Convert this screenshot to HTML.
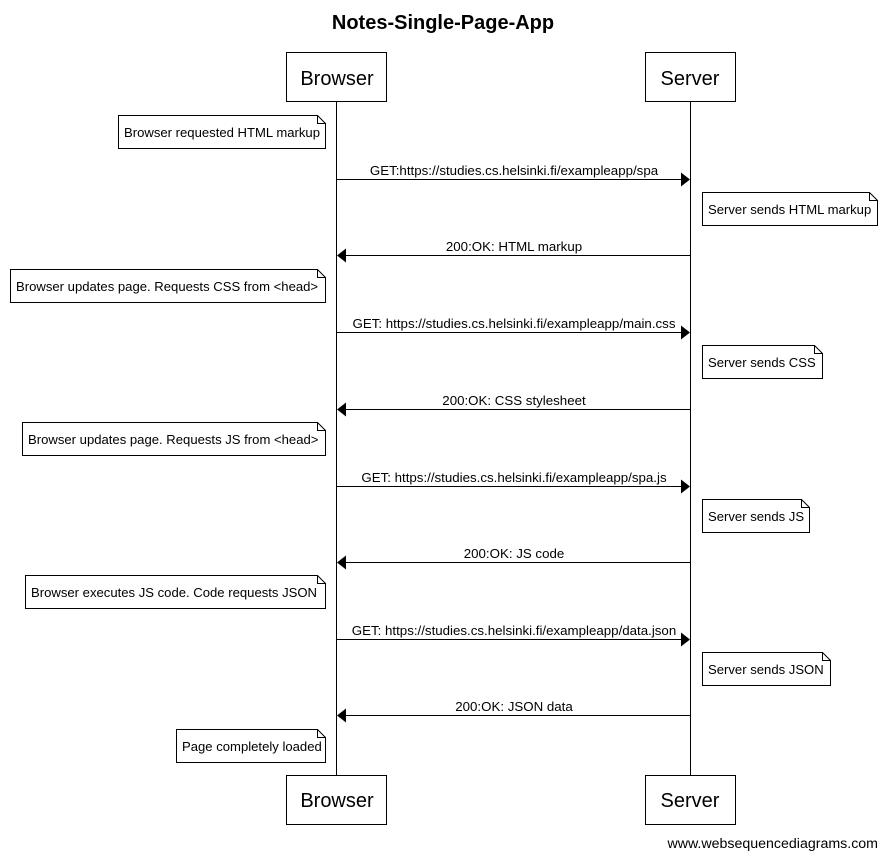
<!DOCTYPE html>
<html><head><meta charset="utf-8"><style>html,body{margin:0;padding:0;background:#fff}</style></head>
<body>
<svg width="887" height="859" xmlns="http://www.w3.org/2000/svg" font-family="Liberation Sans, Arial, sans-serif">
<rect width="887" height="859" fill="#fff"/>
<text x="443" y="29" font-size="20" font-weight="bold" text-anchor="middle">Notes-Single-Page-App</text>
<g stroke="#000" stroke-width="1" fill="#fff">
<line x1="336.5" y1="102" x2="336.5" y2="775"/>
<line x1="690.5" y1="102" x2="690.5" y2="775"/>
<rect x="286.5" y="52.5" width="100" height="49"/>
<rect x="645.5" y="52.5" width="90" height="49"/>
<rect x="286.5" y="775.5" width="100" height="49"/>
<rect x="645.5" y="775.5" width="90" height="49"/>
</g>
<g font-size="20" text-anchor="middle">
<text x="337" y="85">Browser</text><text x="690" y="85">Server</text>
<text x="337" y="807">Browser</text><text x="690" y="807">Server</text>
</g>
<g stroke="#000" fill="#fff">
<path d="M118.5 115.5H317.5L325.5 123.5V148.5H118.5Z"/><path d="M317.5 115.5V123.5H325.5" fill="none"/>
<path d="M702.5 192.5H869.5L877.5 200.5V225.5H702.5Z"/><path d="M869.5 192.5V200.5H877.5" fill="none"/>
<path d="M10.5 269.5H317.5L325.5 277.5V302.5H10.5Z"/><path d="M317.5 269.5V277.5H325.5" fill="none"/>
<path d="M702.5 345.5H814.5L822.5 353.5V378.5H702.5Z"/><path d="M814.5 345.5V353.5H822.5" fill="none"/>
<path d="M22.5 422.5H317.5L325.5 430.5V455.5H22.5Z"/><path d="M317.5 422.5V430.5H325.5" fill="none"/>
<path d="M702.5 499.5H801.5L809.5 507.5V532.5H702.5Z"/><path d="M801.5 499.5V507.5H809.5" fill="none"/>
<path d="M25.5 575.5H317.5L325.5 583.5V608.5H25.5Z"/><path d="M317.5 575.5V583.5H325.5" fill="none"/>
<path d="M702.5 652.5H822.5L830.5 660.5V685.5H702.5Z"/><path d="M822.5 652.5V660.5H830.5" fill="none"/>
<path d="M176.5 729.5H317.5L325.5 737.5V762.5H176.5Z"/><path d="M317.5 729.5V737.5H325.5" fill="none"/>
</g>
<g font-size="13.1">
<text x="124" y="137">Browser requested HTML markup</text>
<text x="708" y="214">Server sends HTML markup</text>
<text x="16" y="291">Browser updates page. Requests CSS from &lt;head&gt;</text>
<text x="708" y="367">Server sends CSS</text>
<text x="28" y="444">Browser updates page. Requests JS from &lt;head&gt;</text>
<text x="708" y="521">Server sends JS</text>
<text x="31" y="597">Browser executes JS code. Code requests JSON</text>
<text x="708" y="674">Server sends JSON</text>
<text x="182" y="751">Page completely loaded</text>
</g>
<g stroke="#000">
<line x1="337" y1="179.5" x2="682" y2="179.5"/>
<line x1="345" y1="255.5" x2="690" y2="255.5"/>
<line x1="337" y1="332.5" x2="682" y2="332.5"/>
<line x1="345" y1="409.5" x2="690" y2="409.5"/>
<line x1="337" y1="486.5" x2="682" y2="486.5"/>
<line x1="345" y1="562.5" x2="690" y2="562.5"/>
<line x1="337" y1="639.5" x2="682" y2="639.5"/>
<line x1="345" y1="715.5" x2="690" y2="715.5"/>
</g>
<g fill="#000">
<path d="M690 179.5L681 172.5V186.5Z"/>
<path d="M337 255.5L346 248.5V262.5Z"/>
<path d="M690 332.5L681 325.5V339.5Z"/>
<path d="M337 409.5L346 402.5V416.5Z"/>
<path d="M690 486.5L681 479.5V493.5Z"/>
<path d="M337 562.5L346 555.5V569.5Z"/>
<path d="M690 639.5L681 632.5V646.5Z"/>
<path d="M337 715.5L346 708.5V722.5Z"/>
</g>
<g font-size="13.3" text-anchor="middle">
<text x="514" y="175">GET:https://studies.cs.helsinki.fi/exampleapp/spa</text>
<text x="514" y="251">200:OK: HTML markup</text>
<text x="514" y="328">GET: https://studies.cs.helsinki.fi/exampleapp/main.css</text>
<text x="514" y="405">200:OK: CSS stylesheet</text>
<text x="514" y="482">GET: https://studies.cs.helsinki.fi/exampleapp/spa.js</text>
<text x="514" y="558">200:OK: JS code</text>
<text x="514" y="635">GET: https://studies.cs.helsinki.fi/exampleapp/data.json</text>
<text x="514" y="711">200:OK: JSON data</text>
</g>
<text x="878" y="848" font-size="14.2" text-anchor="end">www.websequencediagrams.com</text>
</svg>
</body></html>
